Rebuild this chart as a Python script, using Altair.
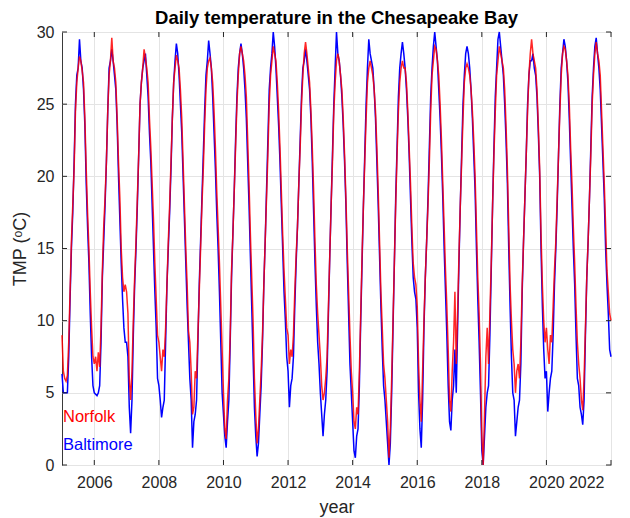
import altair as alt
import pandas as pd

# decimal-year start of the record, one sample on the 1st and 16th of each month
years = list(range(2005, 2022))
xticks = [2006, 2008, 2010, 2012, 2014, 2016, 2018, 2020, 2022]
yticks = [0, 5, 10, 15, 20, 25, 30]

# Norfolk water temperature (degC), 24 samples per year, Jan 1 .. Dec 16, plus Jan 1 2022
norfolk = [
    9.0, 6.5, 6.0, 5.8, 6.2, 8.5, 12.0, 15.5, 18.0, 20.5, 24.5, 26.5, 27.5, 28.3, 28.0, 27.3, 26.5, 24.0, 20.5, 17.5, 15.0, 12.0, 9.5, 7.5,
    7.0, 7.5, 6.5, 7.8, 6.8, 9.5, 13.5, 16.5, 18.5, 21.0, 24.5, 27.0, 28.0, 29.6, 28.0, 27.5, 26.5, 24.0, 21.0, 18.5, 15.0, 13.0, 12.0, 12.5,
    12.0, 10.5, 6.0, 4.5, 6.5, 10.0, 13.0, 15.5, 18.5, 21.5, 25.0, 26.5, 27.5, 28.8, 28.2, 27.5, 26.5, 24.0, 22.0, 19.5, 17.0, 14.0, 11.5, 9.0,
    8.5, 7.5, 6.5, 8.0, 7.5, 9.5, 12.5, 15.5, 18.0, 21.0, 24.0, 26.5, 27.5, 28.4, 28.0, 27.5, 26.0, 24.0, 21.0, 18.0, 15.0, 12.5, 9.3, 8.5,
    6.5, 3.5, 4.0, 6.5, 6.0, 9.0, 12.0, 15.0, 18.0, 20.5, 23.5, 26.0, 27.5, 28.0, 28.2, 27.5, 26.5, 24.5, 22.0, 19.0, 16.5, 14.0, 11.0, 8.0,
    5.0, 2.5, 1.8, 4.5, 6.0, 9.0, 13.5, 16.0, 19.0, 22.0, 25.0, 27.0, 28.5, 29.0, 28.5, 28.0, 27.0, 25.5, 22.5, 19.5, 16.0, 13.0, 10.0, 6.0,
    3.5, 1.5, 2.5, 4.5, 6.5, 9.0, 12.5, 15.5, 18.5, 21.5, 25.0, 27.0, 28.0, 29.0, 28.5, 28.0, 26.5, 24.5, 22.0, 19.0, 16.0, 13.5, 11.5, 9.5,
    9.0, 7.0, 8.0, 7.5, 9.0, 12.0, 14.5, 16.5, 19.5, 22.0, 25.0, 27.0, 28.5, 29.3, 28.5, 27.5, 26.5, 24.5, 22.0, 19.0, 15.5, 12.5, 10.5, 9.0,
    7.5, 5.5, 4.5, 5.0, 6.0, 7.5, 11.0, 14.5, 18.0, 21.0, 24.5, 26.5, 28.0, 28.5, 28.0, 27.0, 26.0, 24.0, 21.5, 18.5, 15.0, 12.0, 9.0, 6.5,
    5.0, 3.0, 2.5, 4.0, 3.5, 6.5, 10.5, 14.5, 18.0, 21.0, 24.0, 26.5, 27.5, 28.0, 27.5, 27.0, 26.0, 24.5, 22.0, 19.0, 15.5, 12.0, 9.5, 7.0,
    6.0, 4.5, 3.0, 0.5, 2.5, 6.0, 10.0, 14.0, 18.0, 21.5, 24.5, 26.5, 27.5, 28.0, 27.5, 27.5, 26.5, 24.5, 22.0, 19.5, 16.5, 14.0, 13.0, 12.5,
    11.0, 7.0, 4.5, 3.0, 6.5, 10.0, 13.0, 15.5, 18.0, 21.0, 24.5, 27.0, 28.0, 29.0, 28.8, 28.0, 27.0, 25.0, 22.5, 19.5, 16.5, 13.5, 11.0, 8.0,
    4.5, 3.7, 6.5, 8.5, 12.0, 7.0, 10.5, 14.5, 18.0, 21.0, 24.0, 26.5, 27.5, 27.8, 27.5, 27.0, 26.0, 24.5, 22.5, 20.0, 16.5, 13.0, 10.5, 7.0,
    2.0, 0.0, 3.5, 7.5, 9.5, 7.0, 10.5, 14.0, 18.0, 21.5, 24.5, 27.0, 28.0, 29.0, 28.5, 28.0, 27.5, 26.0, 23.5, 20.5, 16.5, 12.5, 10.0, 8.0,
    7.0, 5.0, 6.5, 7.0, 6.0, 8.5, 12.5, 15.5, 18.5, 21.5, 24.5, 27.0, 28.5, 29.5, 28.5, 28.0, 27.5, 26.0, 23.5, 20.5, 16.0, 12.5, 10.0, 8.5,
    9.5, 8.0, 7.0, 9.0, 8.5, 11.0, 13.5, 15.5, 18.5, 21.5, 24.5, 27.0, 28.5, 29.0, 28.8, 28.0, 27.0, 25.0, 22.0, 19.5, 16.5, 14.0, 11.0, 8.5,
    7.0, 6.0, 4.5, 3.8, 6.0, 9.5, 13.0, 15.5, 18.5, 21.5, 25.0, 27.0, 28.5, 29.3, 28.5, 28.0, 27.0, 24.5, 22.0, 19.5, 16.5, 13.5, 12.0, 10.5,
    10.0,
]

# Baltimore water temperature (degC), same sampling
baltimore = [
    6.3, 5.0, 5.0, 5.0, 5.0, 7.5, 11.5, 15.0, 17.5, 21.0, 25.0, 27.0, 27.5, 29.5, 28.0, 27.5, 26.0, 23.5, 19.5, 16.5, 14.0, 10.5, 7.5, 5.5,
    5.0, 4.9, 4.8, 5.0, 5.5, 8.5, 13.0, 15.5, 18.0, 21.0, 24.5, 27.5, 28.0, 28.8, 28.0, 27.0, 26.0, 23.5, 20.0, 17.0, 14.0, 11.5, 9.5, 8.5,
    8.5, 7.5, 4.0, 2.2, 4.5, 9.0, 12.5, 15.0, 18.0, 21.5, 25.0, 26.5, 27.5, 28.0, 28.5, 27.0, 25.5, 23.0, 21.0, 18.0, 15.0, 12.0, 9.5, 6.0,
    5.5, 4.5, 3.3, 4.0, 4.5, 8.5, 12.5, 15.0, 17.5, 20.5, 24.0, 26.5, 28.0, 29.2, 28.5, 27.0, 25.0, 23.0, 20.0, 17.0, 14.0, 11.0, 8.5, 6.0,
    4.5, 1.2, 3.0, 3.5, 4.5, 8.5, 12.5, 15.5, 18.5, 21.5, 24.5, 27.0, 28.0, 29.4, 28.5, 27.5, 25.5, 23.0, 20.5, 17.5, 15.0, 12.0, 8.5, 5.0,
    3.5, 2.0, 1.2, 3.0, 4.5, 8.5, 13.0, 16.0, 19.0, 22.5, 25.5, 27.5, 28.5, 29.2, 28.5, 27.5, 26.0, 24.0, 21.0, 18.0, 14.5, 11.0, 7.5, 4.0,
    2.0, 0.6, 1.5, 3.5, 5.5, 8.5, 12.5, 15.5, 19.0, 22.5, 26.0, 27.5, 28.5, 30.0, 29.0, 27.5, 25.5, 23.5, 21.0, 18.0, 15.0, 12.0, 10.0, 7.5,
    6.5, 4.0, 5.5, 6.0, 7.5, 11.0, 14.0, 16.5, 19.5, 22.5, 25.5, 27.5, 28.0, 28.8, 28.0, 27.0, 26.0, 24.0, 21.0, 17.5, 14.0, 11.0, 8.5, 7.0,
    5.0, 3.5, 2.0, 3.5, 4.5, 6.5, 10.5, 14.5, 18.0, 21.5, 25.0, 27.5, 30.0, 28.5, 28.0, 27.0, 25.5, 23.5, 21.0, 18.0, 14.0, 10.5, 7.0, 5.0,
    3.0, 1.0, 0.5, 2.0, 2.5, 5.5, 10.0, 14.0, 18.0, 21.5, 25.0, 27.5, 29.5, 28.5, 28.0, 27.5, 26.0, 24.0, 21.0, 18.0, 14.5, 11.0, 8.0, 5.5,
    4.5, 3.0, 1.5, 0.0, 1.5, 5.0, 9.5, 14.0, 18.5, 22.0, 25.5, 27.5, 28.5, 29.3, 28.5, 27.5, 26.0, 24.0, 21.5, 18.5, 15.5, 13.0, 12.0, 11.5,
    9.5, 5.0, 2.5, 1.2, 4.5, 9.5, 13.0, 15.5, 18.5, 22.0, 25.5, 27.5, 29.0, 30.0, 29.0, 28.0, 26.0, 24.0, 21.5, 18.5, 15.0, 12.0, 9.0, 5.5,
    3.0, 2.4, 4.5, 5.5, 8.0, 5.0, 9.5, 14.0, 18.0, 21.5, 25.0, 27.0, 28.5, 29.0, 28.5, 27.5, 26.0, 24.0, 21.5, 19.0, 15.0, 11.5, 8.5, 5.0,
    1.0, 0.0, 2.0, 4.0, 5.0, 5.5, 9.0, 13.5, 18.0, 22.0, 25.5, 27.5, 29.5, 30.0, 29.0, 28.0, 27.0, 25.0, 22.5, 19.5, 15.0, 11.0, 7.5, 5.0,
    4.5, 2.0, 3.0, 4.0, 4.5, 7.0, 12.0, 15.5, 18.5, 21.5, 25.0, 27.0, 28.0, 28.0, 28.5, 27.5, 27.0, 25.5, 23.0, 20.0, 15.0, 11.0, 8.0, 6.0,
    6.5, 3.7, 5.0, 6.0, 6.5, 9.0, 12.5, 15.0, 18.0, 21.5, 25.0, 27.5, 28.5, 29.5, 29.0, 28.0, 26.5, 24.0, 21.0, 18.0, 15.0, 12.5, 9.0, 6.0,
    5.5, 4.0, 3.5, 2.8, 4.5, 9.0, 13.0, 15.5, 18.5, 22.0, 25.5, 27.5, 29.0, 29.6, 28.5, 27.5, 26.0, 23.5, 21.0, 18.5, 15.0, 12.5, 10.5, 8.0,
    7.5,
]

times = [y + k / 24 for y in years for k in range(24)] + [2022.0]

df_n = pd.DataFrame({"year": times, "tmp": norfolk})
df_b = pd.DataFrame({"year": times, "tmp": baltimore})
df_xt = pd.DataFrame({"t": xticks})
df_yt = pd.DataFrame({"t": yticks})

W, H = 549, 433
FONT = "Liberation Sans"
AX = "#262626"

xscale = alt.Scale(domain=[2005, 2022], nice=False, zero=False)
yscale = alt.Scale(domain=[0, 30], nice=False, zero=False)

xaxis = alt.Axis(values=xticks, format="d", grid=True, ticks=False, domain=False,
                 title="year", labelFontSize=16, titleFontSize=18, labelPadding=9,
                 titlePadding=8, labelColor=AX, titleColor=AX, titleFontWeight="normal",
                 gridColor="#e4e4e4", labelFont=FONT, titleFont=FONT,
                 labelOffset={"condition": {"test": "datum.value == 2022", "value": -7}, "value": 0})
yaxis = alt.Axis(values=yticks, grid=True, ticks=False, domain=False,
                 title="TMP (ᵒC)", labelFontSize=16, titleFontSize=18, labelPadding=8,
                 titlePadding=7, labelColor=AX, titleColor=AX, titleFontWeight="normal",
                 gridColor="#e4e4e4", labelFont=FONT, titleFont=FONT)

base_b = alt.Chart(df_b).mark_line(color="#0000ff", strokeWidth=1.5).encode(
    x=alt.X("year:Q", scale=xscale, axis=xaxis),
    y=alt.Y("tmp:Q", scale=yscale, axis=yaxis),
)
base_n = alt.Chart(df_n).mark_line(color="#ff0000", strokeWidth=1.5, opacity=0.85).encode(
    x=alt.X("year:Q", scale=xscale),
    y=alt.Y("tmp:Q", scale=yscale),
)

tick_len = 5
xt_bottom = alt.Chart(df_xt).mark_rule(color=AX, strokeWidth=1).encode(
    x=alt.X("t:Q", scale=xscale), y=alt.value(H), y2=alt.value(H - tick_len))
xt_top = alt.Chart(df_xt).mark_rule(color=AX, strokeWidth=1).encode(
    x=alt.X("t:Q", scale=xscale), y=alt.value(0), y2=alt.value(tick_len))
yt_left = alt.Chart(df_yt).mark_rule(color=AX, strokeWidth=1).encode(
    y=alt.Y("t:Q", scale=yscale), x=alt.value(0), x2=alt.value(tick_len))
yt_right = alt.Chart(df_yt).mark_rule(color=AX, strokeWidth=1).encode(
    y=alt.Y("t:Q", scale=yscale), x=alt.value(W), x2=alt.value(W - tick_len))

lab_n = alt.Chart(pd.DataFrame({"label": ["Norfolk"]})).mark_text(
    align="left", baseline="alphabetic", fontSize=16.5, font=FONT, color="#ff0000"
).encode(text="label:N", x=alt.value(1), y=alt.value(389.5))
lab_b = alt.Chart(pd.DataFrame({"label": ["Baltimore"]})).mark_text(
    align="left", baseline="alphabetic", fontSize=16.5, font=FONT, color="#0000ff"
).encode(text="label:N", x=alt.value(1), y=alt.value(417.5))

chart = alt.layer(
    base_b, base_n, xt_bottom, xt_top, yt_left, yt_right, lab_n, lab_b
).properties(
    width=W, height=H,
    title=alt.Title("Daily temperature in the Chesapeake Bay", fontSize=18.5,
                    fontWeight="bold", font=FONT, color="#000000", offset=-3,
                    frame="group"),
    autosize=alt.AutoSizeParams(type="none"),
    padding={"left": 54, "top": 24, "right": 11, "bottom": 53},
).configure_view(
    stroke="#3a3a3a", strokeWidth=1
)

chart.save("out.html", embed_options={"renderer": "svg", "actions": False})
